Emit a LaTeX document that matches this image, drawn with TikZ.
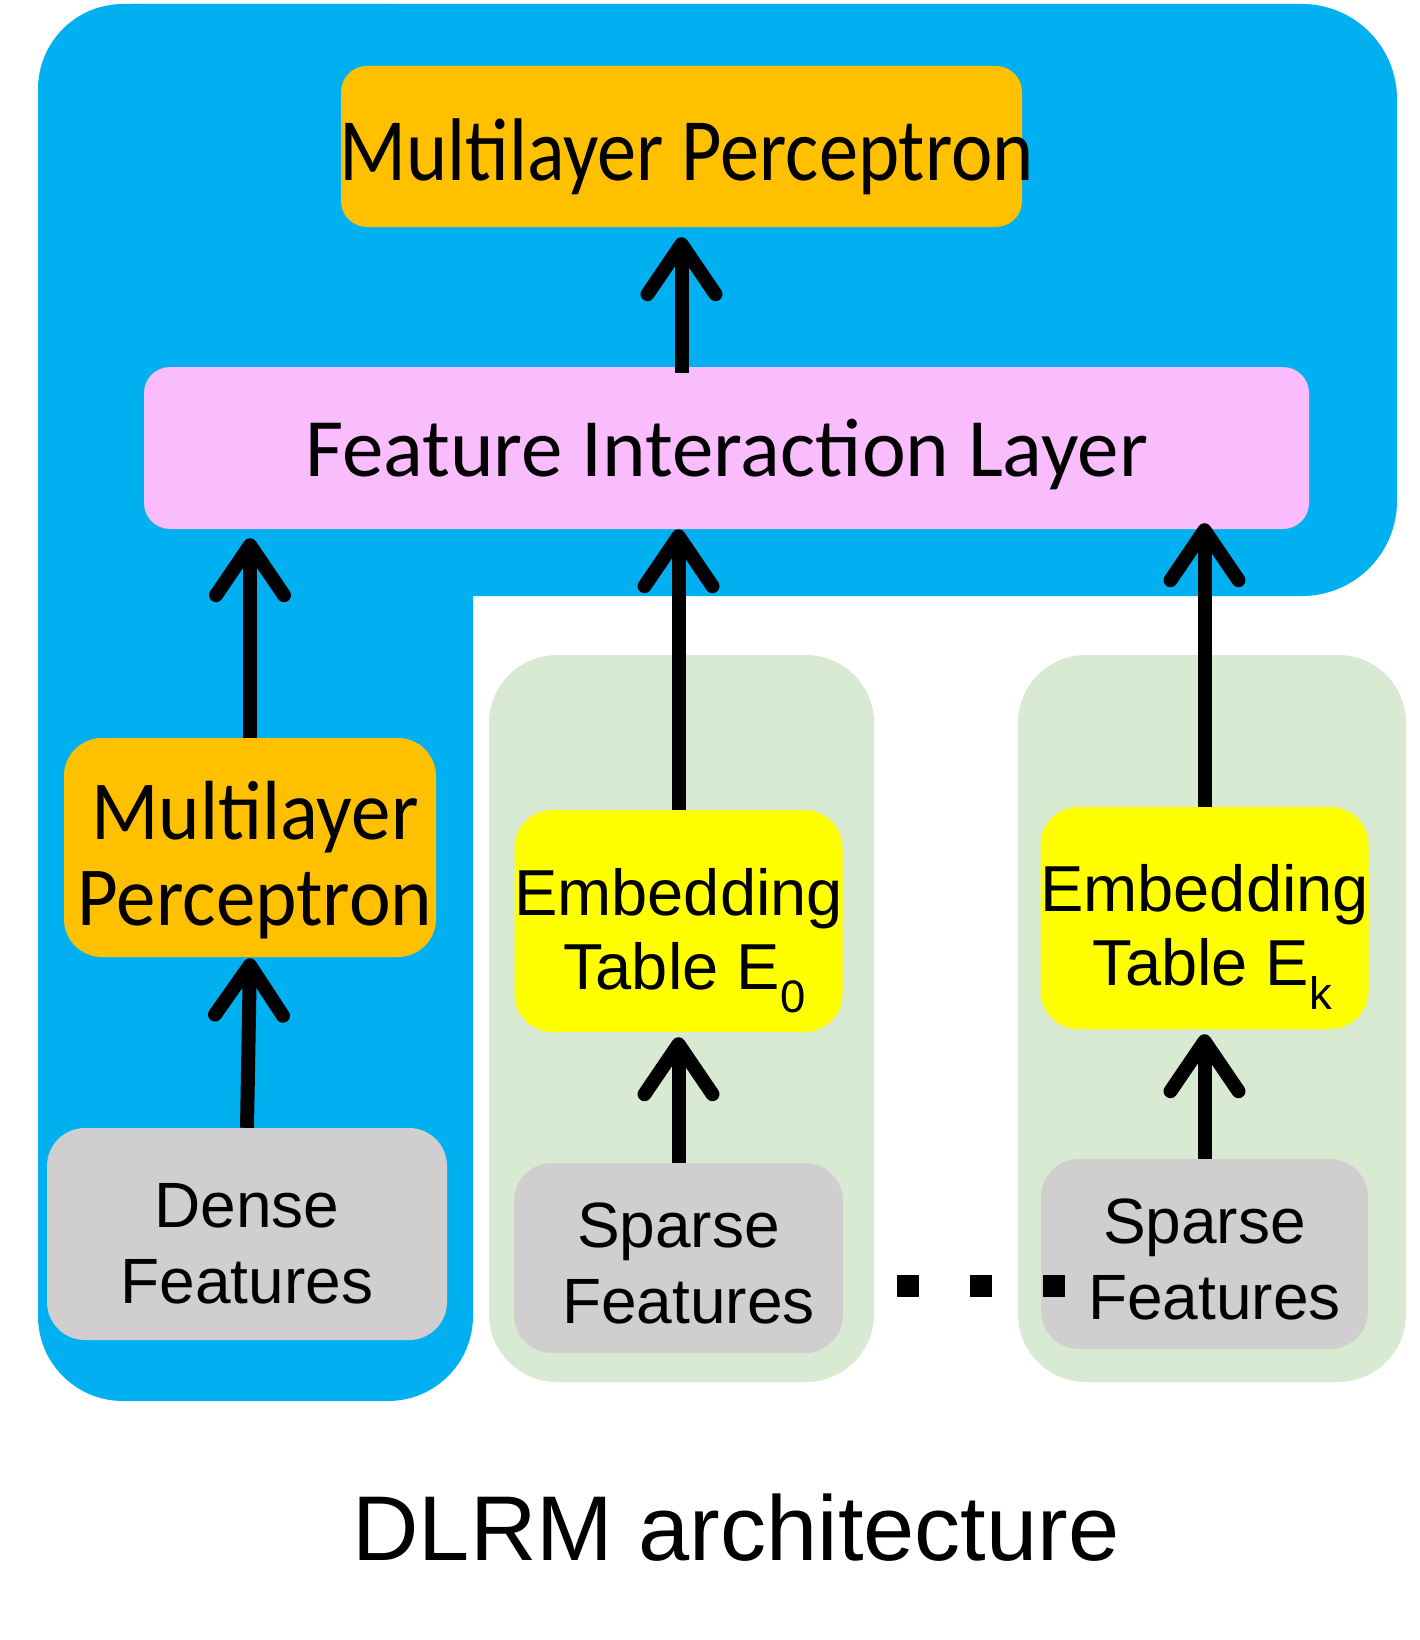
\documentclass[tikz,border=0pt]{standalone}
\usepackage{fontspec}
\setmainfont{Liberation Sans}
\newfontfamily\calfont{Carlito}
\newfontfamily\mlpfont[FakeStretch=0.88]{Carlito}
\newfontfamily\mlpfontb[FakeStretch=0.94]{Carlito}
\usetikzlibrary{arrows.meta,positioning}
\definecolor{dlrmblue}{HTML}{00B0F0}
\definecolor{mlporange}{HTML}{FFC000}
\definecolor{fipink}{HTML}{F9BCFC}
\definecolor{embyellow}{HTML}{FFFF00}
\definecolor{featgrey}{HTML}{D0CECE}
\definecolor{tblgreen}{HTML}{D9EAD3}
\tikzset{
  blk/.style={
    rectangle,rounded corners=38pt,inner sep=0pt
  },
  txt/.style={inner sep=0pt,align=center},
  mlp/.style={blk,fill=mlporange},
  emb/.style={blk,fill=embyellow,minimum width=328pt,minimum height=222pt},
  embtxt/.style={txt,font=\fontsize{65}{74}\selectfont},
  feat/.style={blk,fill=featgrey},
  feattxt/.style={txt,font=\fontsize{64}{76}\selectfont},
  flow/.style={-{Straight Barb[length=50pt,width=68pt,round]},line width=14pt}
}

\begin{document}
\begin{tikzpicture}[x=1pt,y=-1pt]
\useasboundingbox (0,0) rectangle (1420,1640);

% blue backdrop
\fill[dlrmblue,rounded corners=95pt] (38,4) rectangle (1397,596);
\fill[dlrmblue,rounded corners=85pt] (38,4) rectangle (473,1401);

% green table groups
\fill[tblgreen,rounded corners=68pt] (489,655) rectangle (874,1382);
\fill[tblgreen,rounded corners=68pt] (1018,655) rectangle (1406,1382);

\node[mlp,rounded corners=26pt,minimum width=681pt,minimum height=161pt] (mlptop)
  at (681.5,146.5) {};
\node[txt,font=\mlpfont\fontsize{89}{96}\selectfont] (mlptoptxt)
  at ([xshift=5pt,yshift=-10pt]mlptop.center) {Multilayer Perceptron};

\node[blk,fill=fipink,rounded corners=26pt,minimum width=1165pt,minimum height=162pt]
  (fil) at (726.5,448) {};
\node[txt,font=\calfont\fontsize{83}{90}\selectfont] (filtxt)
  at ([yshift=-6pt]fil.center) {Feature Interaction Layer};

\node[mlp,minimum width=372pt,minimum height=219pt] (mlpl) at (250,847.5) {};
\node[txt,font=\mlpfontb\fontsize{84}{86}\selectfont] (mlpltxt)
  at ([xshift=5pt,yshift=-13pt]mlpl.center) {Multilayer\\Perceptron};

\node[emb] (emb0) at (678.5,921) {};
\node[embtxt] (emb0txt) at ([yshift=-20pt]emb0.center)
  {Embedding\\\hspace*{12pt}Table E$_{\mathrm{0}}$};
\node[emb] (embk) at (1204.5,918) {};
\node[embtxt] (embktxt) at ([yshift=-19pt]embk.center)
  {Embedding\\\hspace*{16pt}Table E$_{\mathrm{k}}$};

\node[feat,minimum width=400pt,minimum height=212pt] (dense) at (247,1234) {};
\node[feattxt] (densetxt) at ([yshift=-10pt]dense.center) {Dense\\Features};
\node[feat,minimum width=329pt,minimum height=190pt] (sparse0) at (678.5,1258) {};
\node[feattxt] (sparse0txt) at ([yshift=-5pt]sparse0.center)
  {Sparse\\\hspace*{20pt}Features};
\node[feat,minimum width=327pt,minimum height=190pt] (sparsek) at (1204.5,1254) {};
\node[feattxt] (sparsektxt) at ([yshift=-5pt]sparsek.center)
  {Sparse\\\hspace*{20pt}Features};

\draw[flow,shorten >=10pt,shorten <=-6pt] (mlptop.south |- fil.north) -- (mlptop.south);
\draw[flow,shorten >=9pt] (mlpl.north) -- (mlpl.north |- fil.south);
\draw[flow] (emb0.north) -- (emb0.north |- fil.south);
\draw[flow,shorten >=-6pt] (embk.north) -- (embk.north |- fil.south);
\draw[flow,shorten >=1pt] (dense.north) -- (mlpl.south);
\draw[flow,shorten >=5pt] (sparse0.north) -- (emb0.south);
\draw[flow,shorten >=5pt] (sparsek.north) -- (embk.south);

% ellipsis between the tables
\foreach \x in {908,981,1054}
  \fill (\x-11,1275) rectangle (\x+11,1297);

\node[anchor=base,font=\fontsize{92}{96}\selectfont] (title) at (736,1560)
  {DLRM architecture};
\end{tikzpicture}
\end{document}
